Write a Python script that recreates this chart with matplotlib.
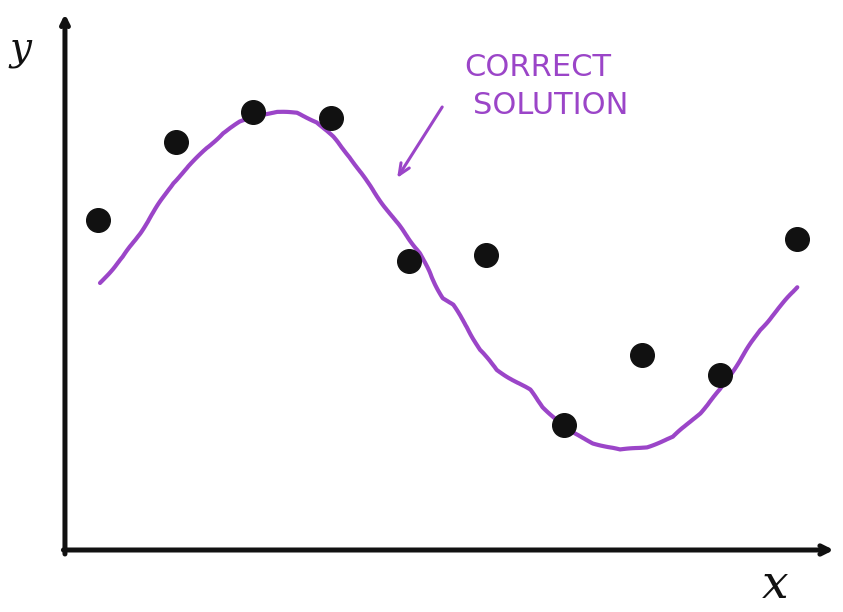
import matplotlib.pyplot as plt

# measured points (x index, y value)
point_x = [1, 2, 3, 4, 5, 6, 7, 8, 9, 10]
point_y = [6.6, 8.16, 8.76, 8.64, 5.78, 5.9, 2.5, 3.9, 3.5, 6.22]

# hand-drawn "correct solution" curve
curve_x = [1.026, 1.322, 1.541, 1.759, 1.965, 2.184, 2.403, 2.609, 2.828, 3.046,
           3.304, 3.561, 3.819, 4.024, 4.243, 4.462, 4.629, 4.887, 5.144, 5.311,
           5.440, 5.569, 5.749, 5.916, 6.135, 6.341, 6.560, 6.727, 6.907, 7.113,
           7.371, 7.718, 8.066, 8.400, 8.748, 9.005, 9.263, 9.520, 9.778, 9.996]
curve_y = [5.34, 5.86, 6.34, 6.86, 7.34, 7.70, 8.04, 8.34, 8.56, 8.70,
           8.76, 8.74, 8.56, 8.26, 7.86, 7.36, 7.00, 6.46, 5.94, 5.40,
           5.04, 4.90, 4.46, 4.00, 3.60, 3.40, 3.20, 2.86, 2.60, 2.34,
           2.14, 2.00, 2.06, 2.26, 2.74, 3.20, 3.80, 4.40, 4.86, 5.26]

label_lines = ['CORRECT', 'SOLUTION']

purple = '#9b45c8'
ink = '#111111'

fig = plt.figure(figsize=(8.43, 6.12), dpi=100)
ax = fig.add_axes([0, 0, 1, 1])
ax.set_xlim(-0.261, 10.588)
ax.set_ylim(-1.24, 11.0)
ax.axis('off')

# axes drawn as sketchy arrows
x0 = 0.575
arrow_kw = dict(color=ink, lw=3.6, shrinkA=0, shrinkB=0)
ax.annotate('', xy=(x0, 10.72), xytext=(x0, -0.08),
            arrowprops=dict(arrowstyle='->,head_length=0.5,head_width=0.25', **arrow_kw))
ax.annotate('', xy=(10.47, 0.0), xytext=(x0 - 0.02, 0.0),
            arrowprops=dict(arrowstyle='->,head_length=0.6,head_width=0.3', **arrow_kw))
for p in ax.patches:
    p.set_sketch_params(1, 60, 2)

line, = ax.plot(curve_x, curve_y, color=purple, lw=3,
                solid_capstyle='round', solid_joinstyle='round')
line.set_sketch_params(0.6, 60, 2)

dots, = ax.plot(point_x, point_y, 'o', color=ink, ms=17, mec=ink)
dots.set_sketch_params(1, 20, 2)

# annotation arrow and label
ax.annotate('', xy=(4.85, 7.44), xytext=(5.43, 8.86),
            arrowprops=dict(arrowstyle='->,head_length=0.8,head_width=0.35',
                            color=purple, lw=2.2, shrinkA=0, shrinkB=0))
ax.text(5.72, 9.64, label_lines[0], color=purple, fontsize=22,
        ha='left', va='center', family='DejaVu Sans')
ax.text(5.83, 8.88, label_lines[1], color=purple, fontsize=22,
        ha='left', va='center', family='DejaVu Sans')

ax.text(0.0, 10.0, 'y', fontsize=28, style='italic',
        family='DejaVu Serif', ha='center', va='center', color=ink)
ax.text(9.71, -0.7, 'x', fontsize=34, style='italic',
        family='DejaVu Serif', ha='center', va='center', color=ink)

fig.savefig('out.png', dpi=100)
